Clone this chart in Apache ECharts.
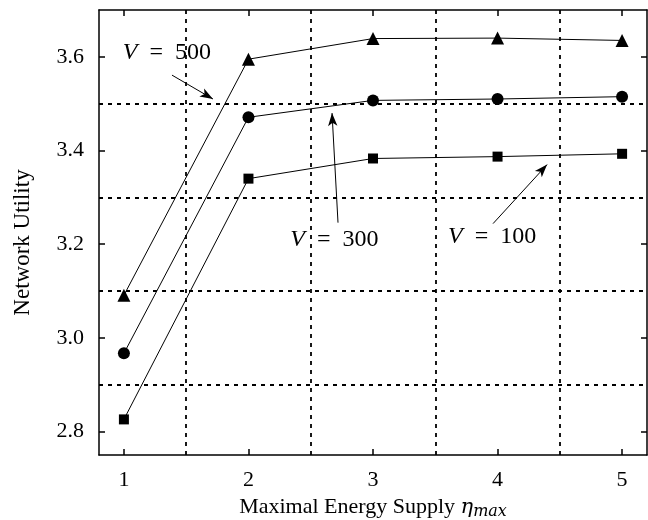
<!DOCTYPE html>
<html>
<head>
<meta charset="utf-8">
<script src="https://cdn.jsdelivr.net/npm/echarts@6/dist/echarts.min.js"></script>
<style>
html,body{margin:0;padding:0;background:#fff;}
#chart{width:648px;height:520px;}
</style>
</head>
<body>
<div id="chart"></div>
<script>
// ---- data ----
const xValues = [1, 2, 3, 4, 5];
const v500 = [3.091, 3.595, 3.639, 3.640, 3.635];
const v300 = [2.967, 3.471, 3.507, 3.510, 3.515];
const v100 = [2.826, 3.340, 3.383, 3.387, 3.393];
const xTicks = [1, 2, 3, 4, 5];
const yTicks = [2.8, 3.0, 3.2, 3.4, 3.6];
const gridX = [1.5, 2.5, 3.5, 4.5];
const gridY = [2.9, 3.1, 3.3, 3.5];
const annLabels = ['500', '300', '100'];
const annText = [[1.345, 3.609], [2.69, 3.21], [3.956, 3.216]];
const annFrom = [[1.386, 3.561], [2.719, 3.246], [3.964, 3.244]];
const annTo = [[1.715, 3.510], [2.671, 3.480], [4.398, 3.370]];

const FONT = "'Liberation Serif','DejaVu Serif',serif";
const MATH = "'DejaVu Serif','Liberation Serif',serif";
const chart = echarts.init(document.getElementById('chart'), null, {renderer: 'canvas'});

const pairs = (xs, ys) => xs.map((x, i) => [x, ys[i]]);
const dotted = {color: '#000', width: 1.8, type: [4, 5]};

const commonAxisLine = {show: true, lineStyle: {color: '#000', width: 1.5}};
const xAxisBase = {
  type: 'value', min: 0.8, max: 5.2,
  axisLine: commonAxisLine,
  axisTick: {show: true, inside: true, length: 6, lineStyle: {color: '#000', width: 1.5}, customValues: xTicks},
  splitLine: {show: false}
};
const yAxisBase = {
  type: 'value', min: 2.75, max: 3.7,
  axisLine: commonAxisLine,
  axisTick: {show: true, inside: true, length: 6, lineStyle: {color: '#000', width: 1.5}, customValues: yTicks},
  splitLine: {show: false}
};

const markers = ['triangle', 'circle', 'rect'];
const sizes = [13, 12, 10];
const seriesData = [v500, v300, v100];

const series = seriesData.map((vals, i) => ({
  type: 'line',
  data: pairs(xValues, vals),
  symbol: markers[i],
  symbolSize: sizes[i],
  itemStyle: {color: '#000'},
  lineStyle: {color: '#000', width: 1},
  z: 5
}));

series.push({
  type: 'line',
  data: [],
  silent: true,
  markLine: {
    silent: true,
    symbol: ['none', 'none'],
    label: {show: false},
    lineStyle: dotted,
    animation: false,
    data: gridX.map(v => ({xAxis: v})).concat(gridY.map(v => ({yAxis: v})))
  },
  z: 1
});

series.push({
  type: 'line',
  data: [],
  silent: true,
  markLine: {
    silent: true,
    symbol: ['none', 'arrow'],
    symbolSize: [7, 13],
    label: {show: false},
    lineStyle: {color: '#000', width: 1, type: 'solid'},
    animation: false,
    data: annFrom.map((f, i) => [{coord: f}, {coord: annTo[i]}])
  },
  markPoint: {
    silent: true,
    symbol: 'circle',
    symbolSize: 1,
    itemStyle: {color: 'rgba(0,0,0,0)'},
    animation: false,
    label: {
      show: true,
      position: 'inside',
      fontFamily: FONT,
      fontSize: 24,
      color: '#000',
      rich: {
        v: {fontFamily: FONT, fontSize: 24, fontStyle: 'italic', color: '#000'},
        t: {fontFamily: FONT, fontSize: 24, color: '#000'}
      }
    },
    data: annText.map((c, i) => ({
      coord: c,
      label: {formatter: '{v|V}{t|  =  ' + annLabels[i] + '}'}
    }))
  },
  z: 6
});

chart.setOption({
  animation: false,
  backgroundColor: '#fff',
  grid: {left: 99, right: 1, top: 10, bottom: 65, containLabel: false, outerBoundsMode: 'none'},
  xAxis: [
    Object.assign({}, xAxisBase, {
      position: 'bottom',
      axisLabel: {show: true, customValues: xTicks, fontFamily: FONT, fontSize: 22, color: '#000', margin: 14},
      name: '{n|Maximal Energy Supply }{e|η}{s|max}',
      nameLocation: 'middle',
      nameGap: 40,
      nameTextStyle: {
        fontFamily: FONT, fontSize: 22, color: '#000',
        rich: {
          n: {fontFamily: FONT, fontSize: 22, color: '#000'},
          e: {fontFamily: MATH, fontSize: 21, fontStyle: 'italic', color: '#000'},
          s: {fontFamily: MATH, fontSize: 16, fontStyle: 'italic', color: '#000', verticalAlign: 'bottom', padding: [9, 0, 0, 0]}
        }
      }
    }),
    Object.assign({}, xAxisBase, {position: 'top', axisLabel: {show: false}})
  ],
  yAxis: [
    Object.assign({}, yAxisBase, {
      position: 'left',
      axisLabel: {show: true, customValues: yTicks, fontFamily: FONT, fontSize: 22, color: '#000', margin: 15,
        formatter: v => v.toFixed(1)},
      name: 'Network Utility',
      nameLocation: 'middle',
      nameGap: 65,
      nameTextStyle: {fontFamily: FONT, fontSize: 23, color: '#000', padding: [0, 20, 0, 0]}
    }),
    Object.assign({}, yAxisBase, {position: 'right', axisLabel: {show: false}})
  ],
  series: series
});
</script>
</body>
</html>
